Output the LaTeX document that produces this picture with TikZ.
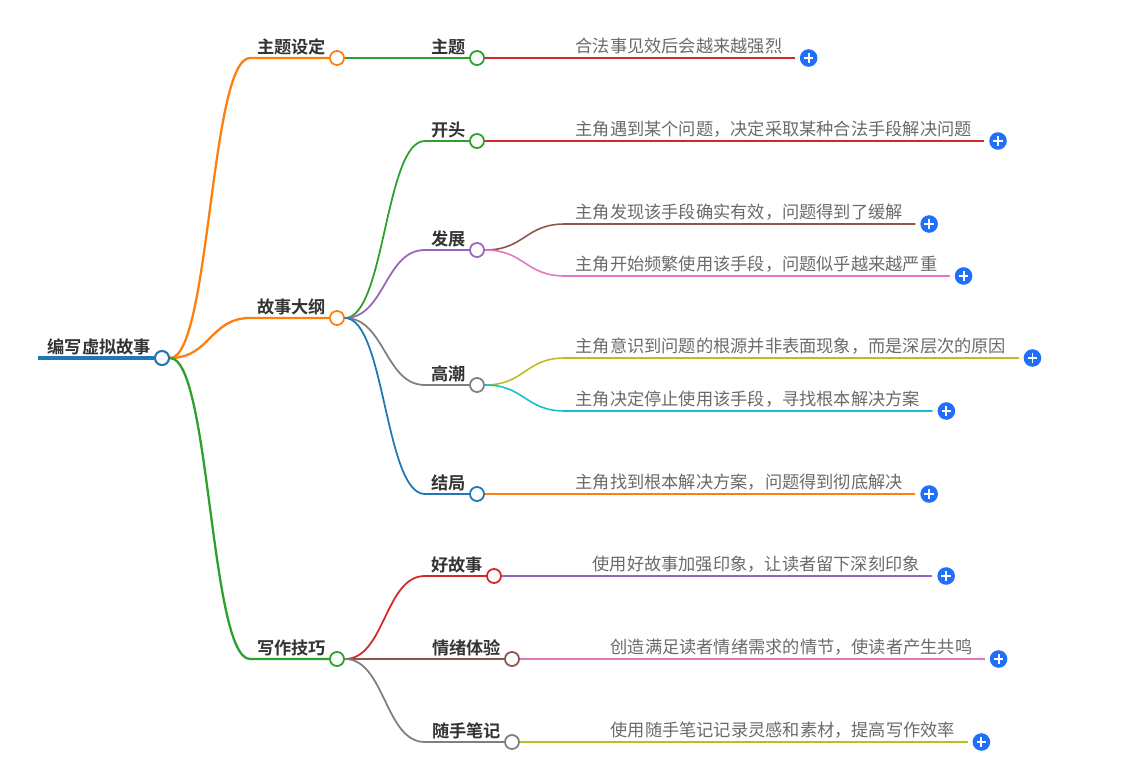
\documentclass[tikz,border=0pt]{standalone}
\usepackage{fontspec}
\setmainfont{Noto Sans CJK SC}[BoldFont={* Bold}]
\usetikzlibrary{positioning,calc}
\definecolor{mblue}{HTML}{1F77B4}
\definecolor{morange}{HTML}{FF7F0E}
\definecolor{mgreen}{HTML}{2CA02C}
\definecolor{mred}{HTML}{D62728}
\definecolor{mpurple}{HTML}{9467BD}
\definecolor{mbrown}{HTML}{8C564B}
\definecolor{mpink}{HTML}{E377C2}
\definecolor{mgray}{HTML}{7F7F7F}
\definecolor{molive}{HTML}{BCBD22}
\definecolor{mcyan}{HTML}{17BECF}
\definecolor{ink}{HTML}{333333}
\definecolor{soft}{HTML}{6A6A6A}
\definecolor{addblue}{HTML}{1F6FFA}
\tikzset{
  limb/.style={to path={.. controls ([xshift=0.8cm]\tikztostart) and ([xshift=0.8cm]\tikztostart |- \tikztotarget) .. ([xshift=1.6cm]\tikztostart |- \tikztotarget) -- (\tikztotarget)}},
  dot/.style={circle, draw=#1, fill=white, line width=1pt, minimum size=8pt, inner sep=0pt},
  tag/.style={font=\bfseries\fontsize{9.8}{12}\selectfont, text=ink, inner sep=0pt, text depth=0pt},
  leaf/.style={anchor=south west, font=\fontsize{9.8}{12}\selectfont, text=soft, inner xsep=7pt, inner ysep=2.8pt, text depth=0pt},
  add/.style={circle, fill=addblue, minimum size=10pt, inner sep=0pt,
    path picture={\draw[white, line width=1.1pt] (path picture bounding box.center) +(-2.7pt,0) -- +(2.7pt,0) +(0,-2.7pt) -- +(0,2.7pt);}},
  stem/.style={line width=1.3pt, draw=#1},
  twig/.style={line width=1pt, draw=#1},
  vein/.style={line width=0.9pt, draw=#1}
}
\begin{document}
\begin{tikzpicture}[x=0.02cm, y=-0.02cm]
\useasboundingbox (0,0) rectangle (1136,767);

% root
\coordinate (tail) at (38,358);
\node[dot=mblue, line width=1.2pt] (root) at (162,358) {};
\node[tag, above left=2.3pt and 1.5pt of root.west] (rootT) {编写虚拟故事};
\draw[line width=2.4pt, mblue] (tail) -- (root.west);

% first level
\node[dot=morange] (theme) at (337,58) {};
\node[dot=morange] (outline) at (337,318) {};
\node[dot=mgreen] (craft) at (337,659) {};
\node[tag, above left=2.3pt and 1.5pt of theme.west] {主题设定};
\node[tag, above left=2.3pt and 1.5pt of outline.west] {故事大纲};
\node[tag, above left=2.3pt and 1.5pt of craft.west] {写作技巧};
\draw[stem=morange] (root.east) to[limb] (theme.west);
\draw[stem=morange] (root.east) to[limb] (outline.west);
\draw[stem=mgreen] (root.east) to[limb] (craft.west);

% second level
\node[dot=mgreen] (topic) at (477,58) {};
\node[dot=mgreen] (opening) at (477,141) {};
\node[dot=mpurple] (rise) at (477,250) {};
\node[dot=mgray] (climax) at (477,385) {};
\node[dot=mblue] (ending) at (477,494) {};
\node[dot=mred] (goodtale) at (494,576) {};
\node[dot=mbrown] (emotion) at (512,659) {};
\node[dot=mgray] (notes) at (512,742) {};
\foreach \n/\t in {topic/主题, opening/开头, rise/发展, climax/高潮, ending/结局, goodtale/好故事, emotion/情绪体验, notes/随手笔记}
  \node[tag, above left=2.3pt and 1.5pt of \n.west] {\t};
\draw[twig=mgreen] (theme.east) to[limb] (topic.west);
\draw[twig=mgreen] (outline.east) to[limb] (opening.west);
\draw[twig=mpurple] (outline.east) to[limb] (rise.west);
\draw[twig=mgray] (outline.east) to[limb] (climax.west);
\draw[twig=mblue] (outline.east) to[limb] (ending.west);
\draw[twig=mred] (craft.east) to[limb] (goodtale.west);
\draw[twig=mbrown] (craft.east) to[limb] (emotion.west);
\draw[twig=mgray] (craft.east) to[limb] (notes.west);

% leaves
\node[leaf] (topicL) at (563,58) {合法事见效后会越来越强烈};
\node[leaf] (openingL) at (563,141) {主角遇到某个问题，决定采取某种合法手段解决问题};
\node[leaf] (riseA) at (563,224) {主角发现该手段确实有效，问题得到了缓解};
\node[leaf] (riseB) at (563,276) {主角开始频繁使用该手段，问题似乎越来越严重};
\node[leaf] (climaxA) at (563,358) {主角意识到问题的根源并非表面现象，而是深层次的原因};
\node[leaf] (climaxB) at (563,411) {主角决定停止使用该手段，寻找根本解决方案};
\node[leaf] (endingL) at (563,494) {主角找到根本解决方案，问题得到彻底解决};
\node[leaf] (goodtaleL) at (580,576) {使用好故事加强印象，让读者留下深刻印象};
\node[leaf] (emotionL) at (598,659) {创造满足读者情绪需求的情节，使读者产生共鸣};
\node[leaf] (notesL) at (598,742) {使用随手笔记记录灵感和素材，提高写作效率};
\draw[vein=mred] (topic.east) to[limb] (topicL.south east);
\draw[vein=mred] (opening.east) to[limb] (openingL.south east);
\draw[vein=mbrown] (rise.east) to[limb] (riseA.south east);
\draw[vein=mpink] (rise.east) to[limb] (riseB.south east);
\draw[vein=molive] (climax.east) to[limb] (climaxA.south east);
\draw[vein=mcyan] (climax.east) to[limb] (climaxB.south east);
\draw[vein=morange] (ending.east) to[limb] (endingL.south east);
\draw[vein=mpurple] (goodtale.east) to[limb] (goodtaleL.south east);
\draw[vein=mpink] (emotion.east) to[limb] (emotionL.south east);
\draw[vein=molive] (notes.east) to[limb] (notesL.south east);
\foreach \n in {topicL, openingL, riseA, riseB, climaxA, climaxB, endingL, goodtaleL, emotionL, notesL}
  \node[add, right=2.6pt of \n.south east] (\n P) {};
\end{tikzpicture}
\end{document}
